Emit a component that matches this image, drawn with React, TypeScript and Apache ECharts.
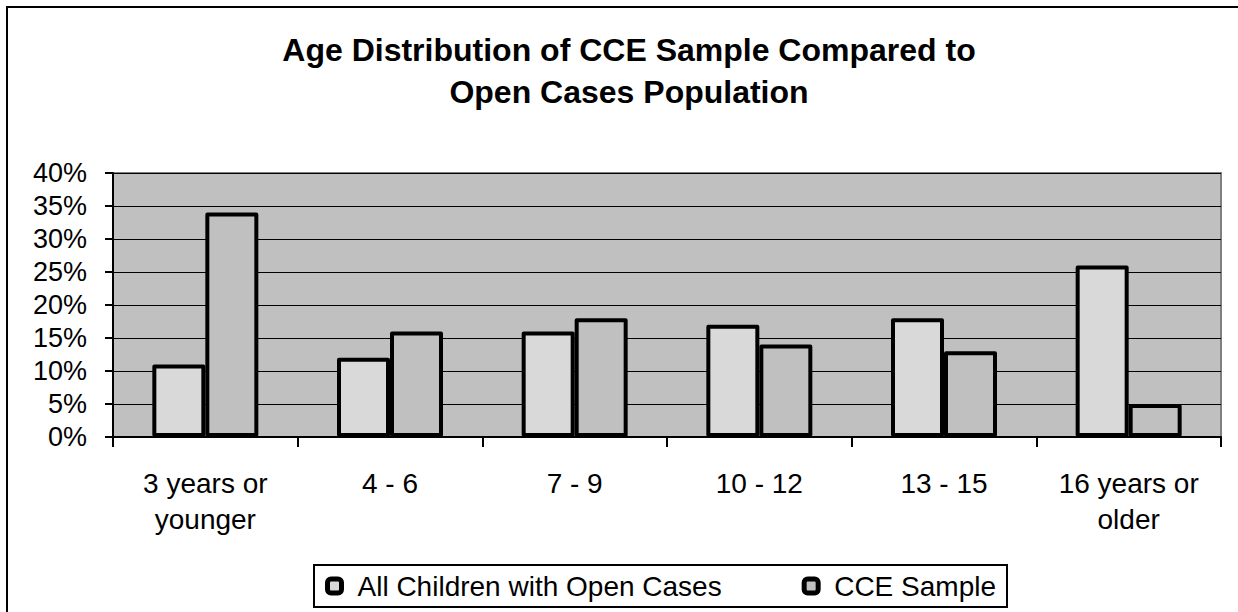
import React, { useEffect, useRef } from "react";
import * as echarts from "echarts";

const categories = ["3 years or\nyounger", "4 - 6", "7 - 9", "10 - 12", "13 - 15", "16 years or\nolder"];
const allChildren = [11, 12, 16, 17, 18, 26];
const cceSample = [34, 16, 18, 14, 13, 5];
const seriesNames = ["All Children with Open Cases", "CCE Sample"];
const seriesColors = ["#d9d9d9", "#c0c0c0"];
const titleText = "Age Distribution of CCE Sample Compared to\nOpen Cases Population";
const yMin = 0;
const yMax = 40;
const yStep = 5;

const FONT = "'Liberation Sans', Arial, sans-serif";

export default function App() {
  const ref = useRef<HTMLDivElement>(null);
  useEffect(() => {
    if (!ref.current) return;
    const chart = echarts.init(ref.current, undefined, { renderer: "svg" });
    chart.setOption({
      animation: false,
      backgroundColor: "#ffffff",
      textStyle: { fontFamily: FONT, color: "#000" },
      title: {
        text: titleText,
        left: 624,
        top: 24,
        textAlign: "center",
        textStyle: {
          fontFamily: FONT,
          fontSize: 32,
          fontWeight: "bold",
          color: "#000",
          lineHeight: 42,
        },
      },
      graphic: [
        {
          type: "rect",
          shape: { x: 7, y: 7, width: 1260, height: 640 },
          style: { fill: "none", stroke: "#000", lineWidth: 2 },
          silent: true,
          z: 100,
        },
      ],
      legend: {
        left: 314,
        top: 565,
        orient: "horizontal",
        itemWidth: 14,
        itemHeight: 14,
        itemGap: 80,
        icon: "roundRect",
        borderColor: "#000",
        borderWidth: 2,
        padding: [7, 11, 7, 11],
        textStyle: {
          fontFamily: FONT,
          fontSize: 28,
          color: "#000",
          lineHeight: 28,
          padding: [0, 0, 0, 11],
        },
        data: seriesNames.map((n, i) => ({
          name: n,
          itemStyle: { color: seriesColors[i], borderColor: "#000", borderWidth: 5 },
        })),
      },
      grid: {
        left: 113,
        top: 173,
        right: 17,
        bottom: 175,
        show: true,
        backgroundColor: "#c0c0c0",
        borderColor: "#808080",
        borderWidth: 2,
      },
      xAxis: {
        type: "category",
        data: categories,
        boundaryGap: true,
        axisLine: { show: true, lineStyle: { color: "#000", width: 2 } },
        axisTick: { show: true, length: 10, alignWithLabel: false, lineStyle: { color: "#000", width: 2 } },
        axisLabel: {
          interval: 0,
          margin: 28,
          fontFamily: FONT,
          fontSize: 28,
          lineHeight: 36,
          color: "#000",
          align: "center",
        },
        splitLine: { show: false },
      },
      yAxis: {
        type: "value",
        min: yMin,
        max: yMax,
        interval: yStep,
        axisLine: { show: true, lineStyle: { color: "#000", width: 2 } },
        axisTick: { show: true, length: 8, lineStyle: { color: "#000", width: 2 } },
        axisLabel: {
          formatter: "{value}%",
          margin: 26,
          fontFamily: FONT,
          fontSize: 27,
          color: "#000",
        },
        splitLine: { show: true, lineStyle: { color: "#000", width: 1 } },
      },
      series: [
        {
          name: seriesNames[0],
          type: "bar",
          data: allChildren,
          barWidth: 53,
          barGap: "0%",
          itemStyle: { color: seriesColors[0], borderColor: "#000", borderWidth: 4, borderJoin: "round" },
        },
        {
          name: seriesNames[1],
          type: "bar",
          data: cceSample,
          barWidth: 53,
          barGap: "0%",
          itemStyle: { color: seriesColors[1], borderColor: "#000", borderWidth: 4, borderJoin: "round" },
        },
      ],
    });
    return () => chart.dispose();
  }, []);
  return (
    <div
      ref={ref}
      style={{ position: "absolute", left: 0, top: 0, width: 1238, height: 612 }}
    />
  );
}
